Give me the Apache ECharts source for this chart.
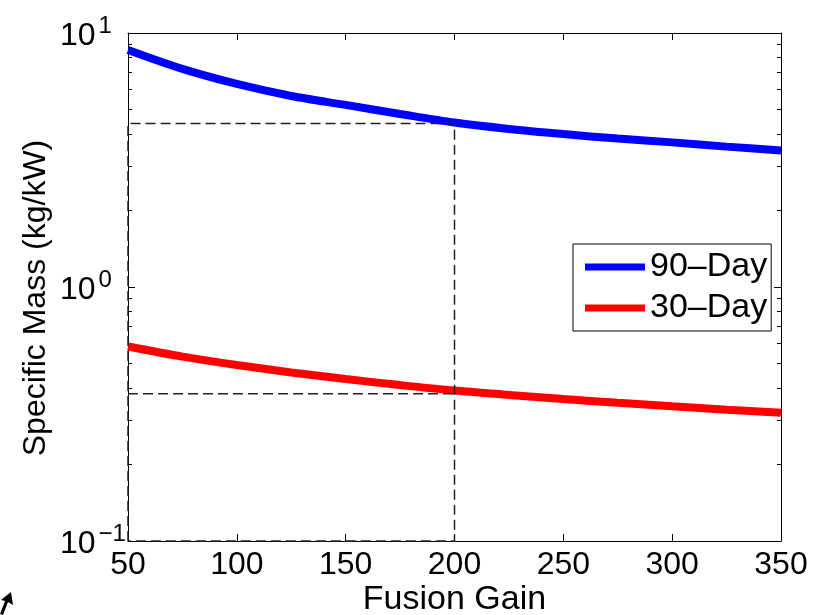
<!DOCTYPE html>
<html>
<head>
<meta charset="utf-8">
<script src="https://cdn.jsdelivr.net/npm/echarts@6/dist/echarts.min.js"></script>
<style>
  html, body { margin: 0; padding: 0; background: #fff; }
  #chart { width: 813px; height: 615px; }
</style>
</head>
<body>
<div id="chart"></div>
<script>
// x 轴：聚变增益
const gain = [50, 75, 100, 125, 150, 175, 200, 225, 250, 275, 300, 325, 350]
// 比质量 (kg/kW)
const day90 = [8.57, 7.22, 6.3, 5.65, 5.21, 4.8, 4.44, 4.19, 4.0, 3.84, 3.71, 3.57, 3.45]
const day30 = [0.583, 0.532, 0.493, 0.461, 0.434, 0.411, 0.391, 0.376, 0.362, 0.35, 0.339, 0.329, 0.32]
// 虚线参考框
const guideX = [50, 200]
const guideY = [0.1, 4.4, 0.38]
// 对数轴次刻度
const minorTicks = [0.2, 0.3, 0.4, 0.5, 0.6, 0.7, 0.8, 0.9, 2, 3, 4, 5, 6, 7, 8, 9]

const FONT = 'Liberation Sans, Arial, Helvetica, sans-serif'

const pairs = (ys) => gain.map((g, i) => [g, ys[i]])

// 10^n 形式的标签
const powLabel = (v) => {
    const e = Math.round(Math.log10(v))
    return '{b|10}{s|' + String(e).replace('-', '\u2212') + '}'
}

const chart = echarts.init(document.getElementById('chart'))

const hiddenLog = (pos, ticks, len) => ({
    type: 'log', logBase: 10, min: 0.1, max: 10, position: pos,
    axisLine: { show: false },
    axisTick: { show: true, inside: true, length: len, customValues: ticks, lineStyle: { color: '#000', width: 1 } },
    axisLabel: { show: false },
    splitLine: { show: false }
})

const dash = { color: '#222', width: 1.5, type: [10, 5] }

chart.setOption({
    animation: false,
    backgroundColor: '#fff',
    textStyle: { fontFamily: FONT },
    grid: { left: 128, right: 32, top: 33, bottom: 74, outerBoundsMode: 'none', containLabel: false },
    legend: {
        data: [
            { name: '90\u2013Day', icon: 'rect' },
            { name: '30\u2013Day', icon: 'rect' }
        ],
        orient: 'vertical',
        left: 573, top: 244,
        padding: [5, 4, 5, 12],
        itemGap: 5,
        itemWidth: 60, itemHeight: 7,
        borderColor: '#000', borderWidth: 1,
        backgroundColor: '#fff',
        textStyle: { fontSize: 34, color: '#000', fontFamily: FONT, lineHeight: 36 }
    },
    xAxis: [
        {
            type: 'value', min: 50, max: 350, interval: 50, position: 'bottom',
            name: 'Fusion Gain', nameLocation: 'middle', nameGap: 42, nameMoveOverlap: false,
            nameTextStyle: { fontSize: 34, color: '#000', fontFamily: FONT },
            axisLine: { show: true, onZero: false, lineStyle: { color: '#000', width: 1 } },
            axisTick: { show: true, inside: true, length: 7, lineStyle: { color: '#000' } },
            axisLabel: { fontSize: 32, color: '#000', margin: 8, fontFamily: FONT },
            splitLine: { show: false }
        },
        {
            type: 'value', min: 50, max: 350, interval: 50, position: 'top',
            axisLine: { show: true, onZero: false, lineStyle: { color: '#000', width: 1 } },
            axisTick: { show: true, inside: true, length: 7, lineStyle: { color: '#000' } },
            axisLabel: { show: false },
            splitLine: { show: false }
        }
    ],
    yAxis: [
        {
            type: 'log', logBase: 10, min: 0.1, max: 10, position: 'left',
            name: 'Specific Mass (kg/kW)', nameLocation: 'middle', nameGap: 76, nameMoveOverlap: false,
            nameTextStyle: { fontSize: 32, color: '#000', fontFamily: FONT, padding: [0, 22, 0, 0] },
            axisLine: { show: true, onZero: false, lineStyle: { color: '#000', width: 1 } },
            axisTick: { show: true, inside: true, length: 7, lineStyle: { color: '#000' } },
            axisLabel: {
                margin: 68, align: 'left', padding: [6, 0, 0, 0], color: '#000', formatter: powLabel,
                rich: {
                    b: { fontSize: 32, fontFamily: FONT, color: '#000', lineHeight: 44 },
                    s: { fontSize: 24, fontFamily: FONT, color: '#000', lineHeight: 2, verticalAlign: 'top', padding: [0, 0, 0, 3] }
                }
            },
            splitLine: { show: false }
        },
        {
            type: 'log', logBase: 10, min: 0.1, max: 10, position: 'right',
            axisLine: { show: true, onZero: false, lineStyle: { color: '#000', width: 1 } },
            axisTick: { show: true, inside: true, length: 7, lineStyle: { color: '#000' } },
            axisLabel: { show: false },
            splitLine: { show: false }
        },
        hiddenLog('left', minorTicks, 4),
        hiddenLog('right', minorTicks, 4)
    ],
    series: [
        {
            name: '90\u2013Day', type: 'line', data: pairs(day90),
            showSymbol: false, smooth: 0.3,
            lineStyle: { color: '#0000ff', width: 8 }, itemStyle: { color: '#0000ff' }
        },
        {
            name: '30\u2013Day', type: 'line', data: pairs(day30),
            showSymbol: false, smooth: 0.3,
            lineStyle: { color: '#ff0000', width: 8 }, itemStyle: { color: '#ff0000' }
        },
        {
            name: 'guide-box', type: 'line', clip: false, showSymbol: false, z: 5,
            data: [
                [guideX[0], guideY[0]], [guideX[0], guideY[1]], [guideX[1], guideY[1]],
                [guideX[1], guideY[0]], [guideX[0], guideY[0]]
            ],
            lineStyle: dash
        },
        {
            name: 'guide-mid', type: 'line', clip: false, showSymbol: false, z: 5,
            data: [[guideX[0], guideY[2]], [guideX[1], guideY[2]]],
            lineStyle: dash
        }
    ],
    graphic: [
        {
            type: 'polygon', left: 0, top: 592, silent: true,
            shape: { points: [[11, 0], [13, 13], [8, 10], [3, 23], [0, 22], [5, 9], [1, 8]] },
            style: { fill: '#000' }
        }
    ]
})

window.addEventListener('resize', () => {
    chart.resize()
})
</script>
</body>
</html>
